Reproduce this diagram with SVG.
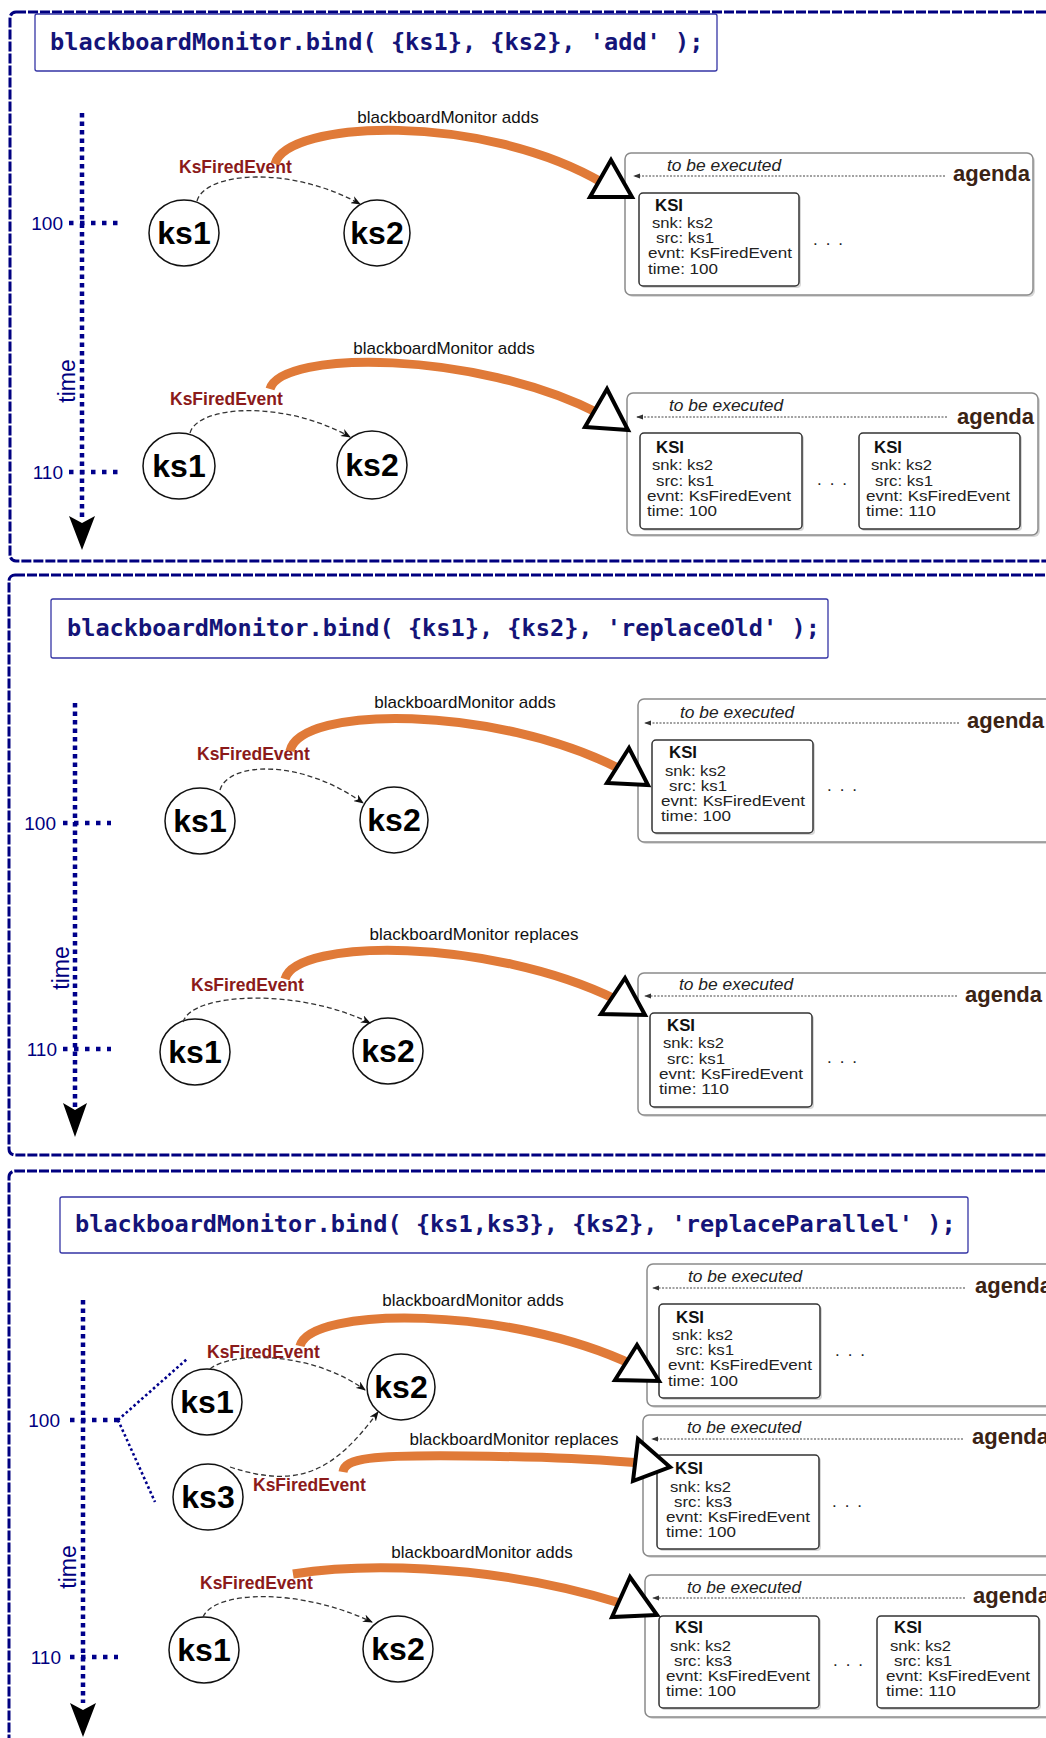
<svg xmlns="http://www.w3.org/2000/svg" width="1046" height="1738" viewBox="0 0 1046 1738">
<defs>
<style>
.frame{fill:none;stroke:#000080;stroke-width:3;stroke-dasharray:10 2}
.cbox{fill:#fff;stroke:#3535a5;stroke-width:1.3}
.code{font-family:"DejaVu Sans Mono",monospace;font-weight:bold;font-size:23.6px;fill:#141478}
.axis{fill:none;stroke:#00008b;stroke-width:4.5;stroke-dasharray:4.5 4}
.tick{fill:none;stroke:#00008b;stroke-width:4.5;stroke-dasharray:4.5 6.5}
.diag{fill:none;stroke:#00008b;stroke-width:2.6;stroke-dasharray:2.6 2.6}
.num{font-family:"Liberation Sans",Arial,sans-serif;font-size:19px;fill:#000080;text-anchor:end}
.time{font-family:"Liberation Sans",Arial,sans-serif;font-size:23px;fill:#000080;text-anchor:middle}
.node ellipse{fill:#fff;stroke:#111;stroke-width:1.5}
.nt{font-family:"Liberation Sans",Arial,sans-serif;font-weight:bold;font-size:32px;fill:#000;text-anchor:middle}
.evt{font-family:"Liberation Sans",Arial,sans-serif;font-weight:bold;font-size:17.5px;fill:#8b1a1a}
.lbl{font-family:"Liberation Sans",Arial,sans-serif;font-size:17px;fill:#111;text-anchor:middle}
.orange{fill:none;stroke:#e07a38;stroke-width:9}
.dash{fill:none;stroke:#333;stroke-width:1.3;stroke-dasharray:5 3}
.dot{fill:none;stroke:#444;stroke-width:1.1;stroke-dasharray:2 1.5}
.tri{fill:#fff;stroke:#000;stroke-width:4;stroke-linejoin:miter}
.ag{fill:#fff;stroke:#8a8a8a;stroke-width:1.5}
.shadow{fill:#d8d8d8}
.ksi{fill:#fff;stroke:#333;stroke-width:1.5}
.kh{font-family:"Liberation Sans",Arial,sans-serif;font-weight:bold;font-size:16px;fill:#111}
.kt{font-family:"Liberation Sans",Arial,sans-serif;font-size:15.5px;fill:#222}
.tbe{font-family:"Liberation Sans",Arial,sans-serif;font-style:italic;font-size:17.4px;fill:#222}
.agt{font-family:"Liberation Sans",Arial,sans-serif;font-weight:bold;font-size:22px;fill:#3b2314}
.dots{font-family:"Liberation Sans",Arial,sans-serif;font-size:17px;fill:#222}
</style>
<marker id="ah" viewBox="0 0 10 8" refX="9" refY="4" markerWidth="10" markerHeight="8" markerUnits="userSpaceOnUse" orient="auto">
<path d="M0,0 L10,4 L0,8 L3,4 Z" fill="#111"/>
</marker>
<marker id="ahs" viewBox="0 0 8 6" refX="7" refY="3" markerWidth="7" markerHeight="6" markerUnits="userSpaceOnUse" orient="auto">
<path d="M0,0 L8,3 L0,6 Z" fill="#333"/>
</marker>
</defs>
<rect width="1046" height="1738" fill="#fff"/>

<!-- ================= SECTION 1 ================= -->
<g id="frame1"><rect class="frame" x="10" y="12" width="1050" height="549" rx="6"/></g>
<g id="code1"><rect class="cbox" x="35" y="14" width="682" height="57" rx="2"/>
<text class="code" x="50" y="50">blackboardMonitor.bind( {ks1}, {ks2}, 'add' );</text></g>
<g id="timeaxis1">
<line class="axis" x1="82" y1="113" x2="82" y2="520"/>
<path d="M82 550 L69 516 L82 523 L95 516 Z" fill="#000"/>
<line class="tick" x1="69" y1="223" x2="118" y2="223"/>
<text class="num" x="63" y="230">100</text>
<line class="tick" x1="69" y1="472" x2="118" y2="472"/>
<text class="num" x="63" y="479">110</text>
<text class="time" x="75" y="381" transform="rotate(-90 75 381)">time</text>
</g>

<g id="s1r1-ks1" class="node"><ellipse cx="184" cy="233" rx="35" ry="33"/><text class="nt" x="184" y="244">ks1</text></g>
<g id="s1r1-ks2" class="node"><ellipse cx="377" cy="233" rx="33" ry="33"/><text class="nt" x="377" y="244">ks2</text></g>
<g id="s1r1-agenda">
<rect class="shadow" x="627" y="155" width="408" height="142" rx="6"/>
<rect class="ag" x="625" y="153" width="408" height="142" rx="6"/>
<text class="tbe" x="667" y="171">to be executed</text>
<text class="agt" x="953" y="181">agenda</text>
<text class="dots" x="813" y="245" textLength="30">. . .</text>
</g>
<g id="s1r1-ksi1">
<rect class="shadow" x="641" y="195" width="160" height="93" rx="4"/>
<rect class="ksi" x="639" y="193" width="160" height="93" rx="4"/>
<text class="kh" x="655" y="211" textLength="28" lengthAdjust="spacingAndGlyphs">KSI</text>
<text class="kt" x="652" y="228" textLength="61" lengthAdjust="spacingAndGlyphs">snk: ks2</text>
<text class="kt" x="656" y="243" textLength="58" lengthAdjust="spacingAndGlyphs">src: ks1</text>
<text class="kt" x="648" y="258" textLength="144" lengthAdjust="spacingAndGlyphs">evnt: KsFiredEvent</text>
<text class="kt" x="648" y="274" textLength="70" lengthAdjust="spacingAndGlyphs">time: 100</text>
</g>

<g id="s1r2-ks1" class="node"><ellipse cx="179" cy="466" rx="36" ry="33"/><text class="nt" x="179" y="477">ks1</text></g>
<g id="s1r2-ks2" class="node"><ellipse cx="372" cy="465" rx="35" ry="34"/><text class="nt" x="372" y="476">ks2</text></g>
<g id="s1r2-agenda">
<rect class="shadow" x="629" y="395" width="411" height="142" rx="6"/>
<rect class="ag" x="627" y="393" width="411" height="142" rx="6"/>
<text class="tbe" x="669" y="411">to be executed</text>
<text class="agt" x="957" y="424">agenda</text>
<text class="dots" x="817" y="485" textLength="30">. . .</text>
</g>
<g id="s1r2-ksi1">
<rect class="shadow" x="642" y="435" width="162" height="96" rx="4"/>
<rect class="ksi" x="640" y="433" width="162" height="96" rx="4"/>
<text class="kh" x="656" y="453" textLength="28" lengthAdjust="spacingAndGlyphs">KSI</text>
<text class="kt" x="652" y="470" textLength="61" lengthAdjust="spacingAndGlyphs">snk: ks2</text>
<text class="kt" x="656" y="486" textLength="58" lengthAdjust="spacingAndGlyphs">src: ks1</text>
<text class="kt" x="647" y="501" textLength="144" lengthAdjust="spacingAndGlyphs">evnt: KsFiredEvent</text>
<text class="kt" x="647" y="516" textLength="70" lengthAdjust="spacingAndGlyphs">time: 100</text>
</g>
<g id="s1r2-ksi2">
<rect class="shadow" x="861" y="435" width="161" height="96" rx="4"/>
<rect class="ksi" x="859" y="433" width="161" height="96" rx="4"/>
<text class="kh" x="874" y="453" textLength="28" lengthAdjust="spacingAndGlyphs">KSI</text>
<text class="kt" x="871" y="470" textLength="61" lengthAdjust="spacingAndGlyphs">snk: ks2</text>
<text class="kt" x="875" y="486" textLength="58" lengthAdjust="spacingAndGlyphs">src: ks1</text>
<text class="kt" x="866" y="501" textLength="144" lengthAdjust="spacingAndGlyphs">evnt: KsFiredEvent</text>
<text class="kt" x="866" y="516" textLength="70" lengthAdjust="spacingAndGlyphs">time: 110</text>
</g>

<!-- ================= SECTION 2 ================= -->
<g id="frame2"><rect class="frame" x="9" y="575" width="1050" height="580" rx="6"/></g>
<g id="code2"><rect class="cbox" x="51" y="599" width="777" height="59" rx="2"/>
<text class="code" x="67" y="636">blackboardMonitor.bind( {ks1}, {ks2}, 'replaceOld' );</text></g>
<g id="timeaxis2">
<line class="axis" x1="75" y1="703" x2="75" y2="1107"/>
<path d="M75 1137 L63 1103 L75 1110 L87 1103 Z" fill="#000"/>
<line class="tick" x1="63" y1="823" x2="111" y2="823"/>
<text class="num" x="56" y="830">100</text>
<line class="tick" x1="63" y1="1049" x2="111" y2="1049"/>
<text class="num" x="57" y="1056">110</text>
<text class="time" x="69" y="968" transform="rotate(-90 69 968)">time</text>
</g>

<g id="s2r1-ks1" class="node"><ellipse cx="200" cy="821" rx="35" ry="33"/><text class="nt" x="200" y="832">ks1</text></g>
<g id="s2r1-ks2" class="node"><ellipse cx="394" cy="820" rx="34" ry="33"/><text class="nt" x="394" y="831">ks2</text></g>
<g id="s2r1-agenda">
<rect class="shadow" x="640" y="701" width="420" height="143" rx="6"/>
<rect class="ag" x="638" y="699" width="420" height="143" rx="6"/>
<text class="tbe" x="680" y="718">to be executed</text>
<text class="agt" x="967" y="728">agenda</text>
<text class="dots" x="827" y="791" textLength="30">. . .</text>
</g>
<g id="s2r1-ksi1">
<rect class="shadow" x="654" y="742" width="161" height="93" rx="4"/>
<rect class="ksi" x="652" y="740" width="161" height="93" rx="4"/>
<text class="kh" x="669" y="758" textLength="28" lengthAdjust="spacingAndGlyphs">KSI</text>
<text class="kt" x="665" y="776" textLength="61" lengthAdjust="spacingAndGlyphs">snk: ks2</text>
<text class="kt" x="669" y="791" textLength="58" lengthAdjust="spacingAndGlyphs">src: ks1</text>
<text class="kt" x="661" y="806" textLength="144" lengthAdjust="spacingAndGlyphs">evnt: KsFiredEvent</text>
<text class="kt" x="661" y="821" textLength="70" lengthAdjust="spacingAndGlyphs">time: 100</text>
</g>

<g id="s2r2-ks1" class="node"><ellipse cx="195" cy="1052" rx="35" ry="33"/><text class="nt" x="195" y="1063">ks1</text></g>
<g id="s2r2-ks2" class="node"><ellipse cx="388" cy="1051" rx="35" ry="33"/><text class="nt" x="388" y="1062">ks2</text></g>
<g id="s2r2-agenda">
<rect class="shadow" x="640" y="975" width="420" height="142" rx="6"/>
<rect class="ag" x="638" y="973" width="420" height="142" rx="6"/>
<text class="tbe" x="679" y="990">to be executed</text>
<text class="agt" x="965" y="1002">agenda</text>
<text class="dots" x="827" y="1063" textLength="30">. . .</text>
</g>
<g id="s2r2-ksi1">
<rect class="shadow" x="652" y="1015" width="162" height="94" rx="4"/>
<rect class="ksi" x="650" y="1013" width="162" height="94" rx="4"/>
<text class="kh" x="667" y="1031" textLength="28" lengthAdjust="spacingAndGlyphs">KSI</text>
<text class="kt" x="663" y="1048" textLength="61" lengthAdjust="spacingAndGlyphs">snk: ks2</text>
<text class="kt" x="667" y="1064" textLength="58" lengthAdjust="spacingAndGlyphs">src: ks1</text>
<text class="kt" x="659" y="1079" textLength="144" lengthAdjust="spacingAndGlyphs">evnt: KsFiredEvent</text>
<text class="kt" x="659" y="1094" textLength="70" lengthAdjust="spacingAndGlyphs">time: 110</text>
</g>

<!-- ================= SECTION 3 ================= -->
<g id="frame3"><rect class="frame" x="9" y="1171" width="1050" height="600" rx="6"/></g>
<g id="code3"><rect class="cbox" x="60" y="1197" width="908" height="56" rx="2"/>
<text class="code" x="75" y="1232">blackboardMonitor.bind( {ks1,ks3}, {ks2}, 'replaceParallel' );</text></g>
<g id="timeaxis3">
<line class="axis" x1="83" y1="1300" x2="83" y2="1703"/>
<path d="M83 1737 L70 1703 L83 1710 L96 1703 Z" fill="#000"/>
<line class="tick" x1="70" y1="1420" x2="118" y2="1420"/>
<line class="diag" x1="118" y1="1420" x2="187" y2="1359"/>
<line class="diag" x1="118" y1="1420" x2="155" y2="1502"/>
<text class="num" x="60" y="1427">100</text>
<line class="tick" x1="70" y1="1657" x2="118" y2="1657"/>
<text class="num" x="61" y="1664">110</text>
<text class="time" x="76" y="1567" transform="rotate(-90 76 1567)">time</text>
</g>

<g id="s3r1-ks1" class="node"><ellipse cx="207" cy="1402" rx="35" ry="33"/><text class="nt" x="207" y="1413">ks1</text></g>
<g id="s3r1-ks2" class="node"><ellipse cx="401" cy="1387" rx="34" ry="33"/><text class="nt" x="401" y="1398">ks2</text></g>
<g id="s3r1-ks3" class="node"><ellipse cx="208" cy="1497" rx="35" ry="33"/><text class="nt" x="208" y="1508">ks3</text></g>

<g id="s3a-agenda">
<rect class="shadow" x="649" y="1266" width="410" height="142" rx="6"/>
<rect class="ag" x="647" y="1264" width="410" height="142" rx="6"/>
<text class="tbe" x="688" y="1282">to be executed</text>
<text class="agt" x="975" y="1293">agenda</text>
<text class="dots" x="835" y="1356" textLength="30">. . .</text>
</g>
<g id="s3a-ksi1">
<rect class="shadow" x="661" y="1306" width="161" height="94" rx="4"/>
<rect class="ksi" x="659" y="1304" width="161" height="94" rx="4"/>
<text class="kh" x="676" y="1323" textLength="28" lengthAdjust="spacingAndGlyphs">KSI</text>
<text class="kt" x="672" y="1340" textLength="61" lengthAdjust="spacingAndGlyphs">snk: ks2</text>
<text class="kt" x="676" y="1355" textLength="58" lengthAdjust="spacingAndGlyphs">src: ks1</text>
<text class="kt" x="668" y="1370" textLength="144" lengthAdjust="spacingAndGlyphs">evnt: KsFiredEvent</text>
<text class="kt" x="668" y="1386" textLength="70" lengthAdjust="spacingAndGlyphs">time: 100</text>
</g>

<g id="s3b-agenda">
<rect class="shadow" x="645" y="1417" width="415" height="141" rx="6"/>
<rect class="ag" x="643" y="1415" width="415" height="141" rx="6"/>
<text class="tbe" x="687" y="1433">to be executed</text>
<text class="agt" x="972" y="1444">agenda</text>
<text class="dots" x="832" y="1507" textLength="30">. . .</text>
</g>
<g id="s3b-ksi1">
<rect class="shadow" x="659" y="1457" width="162" height="94" rx="4"/>
<rect class="ksi" x="657" y="1455" width="162" height="94" rx="4"/>
<text class="kh" x="675" y="1474" textLength="28" lengthAdjust="spacingAndGlyphs">KSI</text>
<text class="kt" x="670" y="1492" textLength="61" lengthAdjust="spacingAndGlyphs">snk: ks2</text>
<text class="kt" x="674" y="1507" textLength="58" lengthAdjust="spacingAndGlyphs">src: ks3</text>
<text class="kt" x="666" y="1522" textLength="144" lengthAdjust="spacingAndGlyphs">evnt: KsFiredEvent</text>
<text class="kt" x="666" y="1537" textLength="70" lengthAdjust="spacingAndGlyphs">time: 100</text>
</g>

<g id="s3c-ks1" class="node"><ellipse cx="204" cy="1650" rx="35" ry="33"/><text class="nt" x="204" y="1661">ks1</text></g>
<g id="s3c-ks2" class="node"><ellipse cx="398" cy="1649" rx="35" ry="33"/><text class="nt" x="398" y="1660">ks2</text></g>
<g id="s3c-agenda">
<rect class="shadow" x="647" y="1577" width="412" height="142" rx="6"/>
<rect class="ag" x="645" y="1575" width="412" height="142" rx="6"/>
<text class="tbe" x="687" y="1593">to be executed</text>
<text class="agt" x="973" y="1603">agenda</text>
<text class="dots" x="833" y="1666" textLength="30">. . .</text>
</g>
<g id="s3c-ksi1">
<rect class="shadow" x="661" y="1618" width="160" height="92" rx="4"/>
<rect class="ksi" x="659" y="1616" width="160" height="92" rx="4"/>
<text class="kh" x="675" y="1633" textLength="28" lengthAdjust="spacingAndGlyphs">KSI</text>
<text class="kt" x="670" y="1651" textLength="61" lengthAdjust="spacingAndGlyphs">snk: ks2</text>
<text class="kt" x="674" y="1666" textLength="58" lengthAdjust="spacingAndGlyphs">src: ks3</text>
<text class="kt" x="666" y="1681" textLength="144" lengthAdjust="spacingAndGlyphs">evnt: KsFiredEvent</text>
<text class="kt" x="666" y="1696" textLength="70" lengthAdjust="spacingAndGlyphs">time: 100</text>
</g>
<g id="s3c-ksi2">
<rect class="shadow" x="879" y="1618" width="162" height="92" rx="4"/>
<rect class="ksi" x="877" y="1616" width="162" height="92" rx="4"/>
<text class="kh" x="894" y="1633" textLength="28" lengthAdjust="spacingAndGlyphs">KSI</text>
<text class="kt" x="890" y="1651" textLength="61" lengthAdjust="spacingAndGlyphs">snk: ks2</text>
<text class="kt" x="894" y="1666" textLength="58" lengthAdjust="spacingAndGlyphs">src: ks1</text>
<text class="kt" x="886" y="1681" textLength="144" lengthAdjust="spacingAndGlyphs">evnt: KsFiredEvent</text>
<text class="kt" x="886" y="1696" textLength="70" lengthAdjust="spacingAndGlyphs">time: 110</text>
</g>

<!-- ================= CONNECTORS ================= -->
<g id="connectors">
<!-- section 1 row 1 -->
<path class="dash" d="M197 201 C205 172 290 165 360 204" marker-end="url(#ah)"/>
<text class="evt" x="179" y="173">KsFiredEvent</text>
<path class="orange" d="M275 164 C287 120 482 112 603 183"/>
<text class="lbl" x="448" y="123">blackboardMonitor adds</text>
<path class="dot" d="M945 176 L634 176" marker-end="url(#ahs)"/>
<path class="tri" d="M611 160 L590 197 L632 197 Z"/>
<!-- section 1 row 2 -->
<path class="dash" d="M190 433 C198 405 285 400 350 437" marker-end="url(#ah)"/>
<text class="evt" x="170" y="405">KsFiredEvent</text>
<path class="orange" d="M270 389 C282 350 475 350 600 414"/>
<text class="lbl" x="444" y="354">blackboardMonitor adds</text>
<path class="dot" d="M947 417 L637 417" marker-end="url(#ahs)"/>
<path class="tri" d="M607 389 L585 427 L628 430 Z"/>
<!-- section 2 row 1 -->
<path class="dash" d="M220 790 C228 762 300 758 363 803" marker-end="url(#ah)"/>
<text class="evt" x="197" y="760">KsFiredEvent</text>
<path class="orange" d="M290 751 C300 705 495 705 620 769"/>
<text class="lbl" x="465" y="708">blackboardMonitor adds</text>
<path class="dot" d="M959 723 L645 723" marker-end="url(#ahs)"/>
<path class="tri" d="M629 748 L607 783 L648 785 Z"/>
<!-- section 2 row 2 -->
<path class="dash" d="M183 1022 C192 992 300 988 370 1023" marker-end="url(#ah)"/>
<text class="evt" x="191" y="991">KsFiredEvent</text>
<path class="orange" d="M285 979 C296 938 490 938 615 999"/>
<text class="lbl" x="474" y="940">blackboardMonitor replaces</text>
<path class="dot" d="M957 996 L645 996" marker-end="url(#ahs)"/>
<path class="tri" d="M625 978 L601 1014 L645 1015 Z"/>
<!-- section 3 row A -->
<path class="dash" d="M210 1369 C230 1352 310 1350 365 1390" marker-end="url(#ah)"/>
<text class="evt" x="207" y="1358">KsFiredEvent</text>
<path class="orange" d="M300 1346 C310 1306 510 1306 633 1365"/>
<text class="lbl" x="473" y="1306">blackboardMonitor adds</text>
<path class="dot" d="M965 1288 L653 1288" marker-end="url(#ahs)"/>
<path class="tri" d="M637 1345 L615 1380 L659 1381 Z"/>
<!-- section 3 row B -->
<path class="dash" d="M230 1467 C300 1490 335 1470 378 1412" marker-end="url(#ah)"/>
<text class="evt" x="253" y="1491">KsFiredEvent</text>
<path class="orange" d="M343 1472 C345 1458 370 1455 467 1456 S600 1460 640 1463"/>
<text class="lbl" x="514" y="1445">blackboardMonitor replaces</text>
<path class="dot" d="M963 1439 L652 1439" marker-end="url(#ahs)"/>
<path class="tri" d="M638 1439 L670 1467 L633 1481 Z"/>
<!-- section 3 row C -->
<path class="dash" d="M203 1617 C215 1590 300 1588 372 1622" marker-end="url(#ah)"/>
<text class="evt" x="200" y="1589">KsFiredEvent</text>
<path class="orange" d="M293 1574 C350 1565 480 1560 620 1603"/>
<text class="lbl" x="482" y="1558">blackboardMonitor adds</text>
<path class="dot" d="M965 1598 L653 1598" marker-end="url(#ahs)"/>
<path class="tri" d="M630 1577 L612 1617 L657 1615 Z"/>
</g>
</svg>
